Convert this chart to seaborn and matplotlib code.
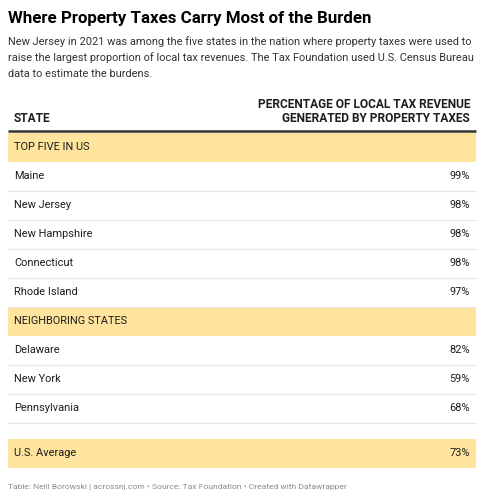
import matplotlib
matplotlib.use("Agg")
import matplotlib.pyplot as plt
import seaborn as sns
import pandas as pd

# chart content
title = "Where Property Taxes Carry Most of the Burden"
subtitle = ["New Jersey in 2021 was among the five states in the nation where property taxes were used to",
            "raise the largest proportion of local tax revenues. The Tax Foundation used U.S. Census Bureau",
            "data to estimate the burdens."]
col_state = "STATE"
col_value = ["PERCENTAGE OF LOCAL TAX REVENUE", "GENERATED BY PROPERTY TAXES"]
groups = ["TOP FIVE IN US", "NEIGHBORING STATES"]
top_states = ["Maine", "New Jersey", "New Hampshire", "Connecticut", "Rhode Island"]
top_values = [99, 98, 98, 98, 97]
neighbor_states = ["Delaware", "New York", "Pennsylvania"]
neighbor_values = [82, 59, 68]
avg_label = "U.S. Average"
avg_value = 73
footer = "Table: Neill Borowski | acrossnj.com \u2022 Source: Tax Foundation \u2022 Created with Datawrapper"

BAND = "#fee49c"
TEXT = "#1d1d1d"
GRID = "#e6e6e6"

sns.set_theme(style="white")
plt.rcParams["font.family"] = ["Roboto", "DejaVu Sans"]

# build the table rows
rows = [("group", groups[0], None)]
rows += [("state", s, v) for s, v in zip(top_states, top_values)]
rows += [("group", groups[1], None)]
rows += [("state", s, v) for s, v in zip(neighbor_states, neighbor_values)]
rows += [("gap", "", None), ("avg", avg_label, avg_value)]
df = pd.DataFrame(rows, columns=["kind", "label", "value"])

row_h = 29
gap_h = 16
heights = [gap_h if k == "gap" else row_h for k in df["kind"]]
tops = [132.5]
for h in heights[:-1]:
    tops.append(tops[-1] + h)
df["top"] = tops
df["h"] = heights
df["y"] = df["top"] + df["h"] / 2

fig = plt.figure(figsize=(4.84, 5.0), dpi=100)
ax = fig.add_axes([0, 0, 1, 1])
ax.set_xlim(0, 484)
ax.set_ylim(500, 0)
ax.axis("off")

# title block
ax.text(8, 18, title, fontsize=12.2, fontweight="bold", color="#000000", va="center")
for i, line in enumerate(subtitle):
    ax.text(8, 42 + i * 16, line, fontsize=7.95, color="#333333", va="center")

# column headers
ax.text(14, 118, col_state, fontsize=8.6, fontweight="bold", color=TEXT, va="center")
for i, line in enumerate(col_value):
    ax.text(470, 104 + i * 14, line, fontsize=8.6, fontweight="bold", color=TEXT,
            va="center", ha="right")
ax.plot([8, 476], [131, 131], color="#333333", lw=1.8, solid_capstyle="butt")

# highlighted bands
bands = df[df["kind"].isin(["group", "avg"])]
ax.barh(bands["y"], width=468, left=8, height=bands["h"], color=BAND, linewidth=0)

# separators under state rows
for _, r in df[df["kind"] == "state"].iterrows():
    ax.plot([8, 476], [r["top"] + r["h"], r["top"] + r["h"]], color=GRID, lw=0.9)

for _, r in df.iterrows():
    if r["kind"] == "gap":
        continue
    ax.text(14, r["y"], r["label"], fontsize=7.9, color=TEXT, va="center")
    if r["value"] is not None and not pd.isna(r["value"]):
        ax.text(470, r["y"], f"{int(r['value'])}%", fontsize=7.9, color=TEXT,
                va="center", ha="right")

ax.text(8, 487, footer, fontsize=6.1, color="#8c8c8c", va="center")

fig.savefig("out.png", dpi=100, facecolor="white")
